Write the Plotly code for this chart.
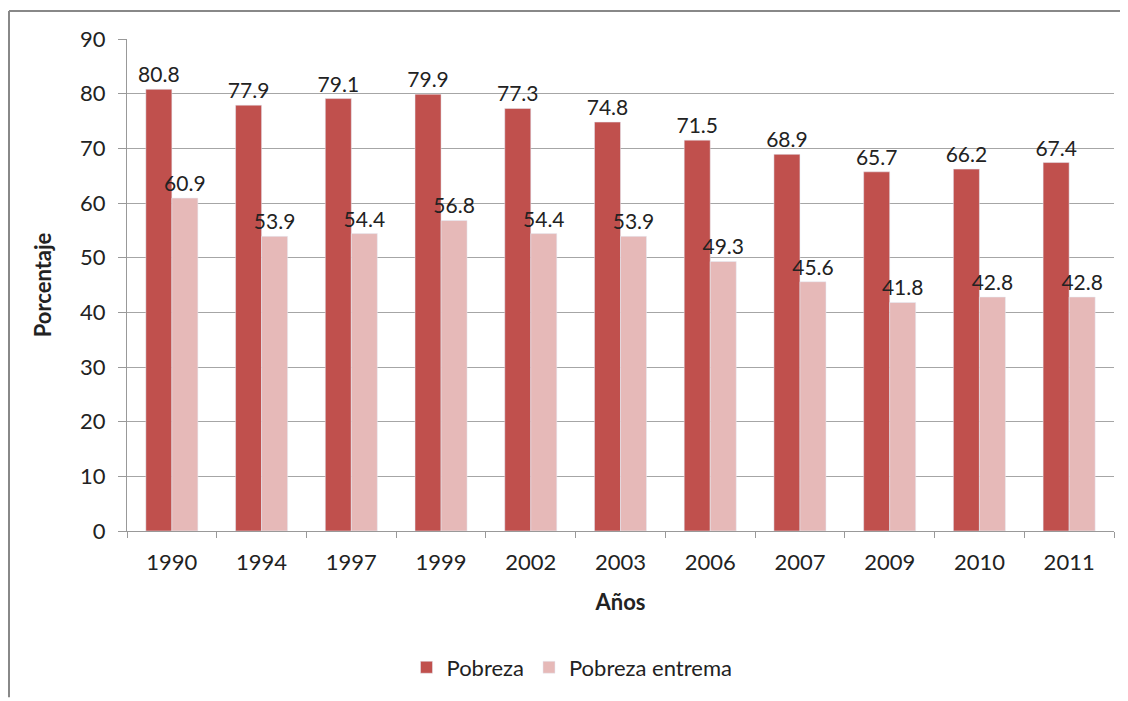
import plotly.graph_objects as go

years = ["1990", "1994", "1997", "1999", "2002", "2003", "2006", "2007", "2009", "2010", "2011"]
pobreza = [80.8, 77.9, 79.1, 79.9, 77.3, 74.8, 71.5, 68.9, 65.7, 66.2, 67.4]
pobreza_extrema = [60.9, 53.9, 54.4, 56.8, 54.4, 53.9, 49.3, 45.6, 41.8, 42.8, 42.8]
y_ticks = [0, 10, 20, 30, 40, 50, 60, 70, 80, 90]

FONT = "Lato, 'Open Sans', sans-serif"
OFF = 8  # page body margin
W, H = 1128 - OFF, 701 - OFF
L, R, T, B = 127 - OFF, 14, 39 - OFF, 168
pw, ph = W - L - R, H - T - B

fig = go.Figure()
fig.add_trace(go.Bar(
    x=years, y=pobreza, name="Pobreza", marker_color="#C0504D",
    text=[f"{v:.1f}" for v in pobreza], textposition="outside", constraintext="none",
    textfont=dict(size=21, color="#222222"), cliponaxis=False,
))
fig.add_trace(go.Bar(
    x=years, y=pobreza_extrema, name="Pobreza entrema", marker_color="#E6B9B8",
    text=[f"{v:.1f}" for v in pobreza_extrema], textposition="outside", constraintext="none",
    textfont=dict(size=21, color="#222222"), cliponaxis=False,
))

def px_x(x):
    return (x - OFF - L) / pw

def px_y(y):
    return (H - B - (y - OFF)) / ph

fig.update_layout(
    width=W, height=H,
    margin=dict(l=L, r=R, t=T, b=B),
    paper_bgcolor="white", plot_bgcolor="white",
    barmode="group", bargap=0.42, bargroupgap=0,
    font=dict(family=FONT, size=21, color="#222222"),
    showlegend=True,
    legend=dict(orientation="h", x=px_x(572), xanchor="center", y=px_y(670), yanchor="middle",
                font=dict(size=22), traceorder="normal"),
    xaxis=dict(
        type="category", showline=True, linecolor="#999999", linewidth=1,
        ticks="outside", tickson="boundaries", ticklen=6, tickcolor="#999999",
        tickfont=dict(size=22), ticklabelstandoff=12,
        title=dict(text="<b>Años</b>", font=dict(size=22), standoff=20),
    ),
    yaxis=dict(
        range=[0, 90], tickvals=y_ticks, showline=True, linecolor="#999999", linewidth=1,
        ticks="outside", ticklen=8, tickcolor="#999999",
        gridcolor="#A6A6A6", gridwidth=1, zeroline=False,
        tickfont=dict(size=22), ticklabelstandoff=8,
        title=dict(text="<b>Porcentaje</b>", font=dict(size=22), standoff=22),
    ),
    shapes=[
        dict(type="line", xref="paper", yref="paper", x0=px_x(9), x1=px_x(1127), y0=px_y(11), y1=px_y(11),
             line=dict(color="#888888", width=2)),
        dict(type="line", xref="paper", yref="paper", x0=px_x(9), x1=px_x(9), y0=px_y(11), y1=px_y(700),
             line=dict(color="#888888", width=2)),
    ],
)

fig.write_html("out.html")
